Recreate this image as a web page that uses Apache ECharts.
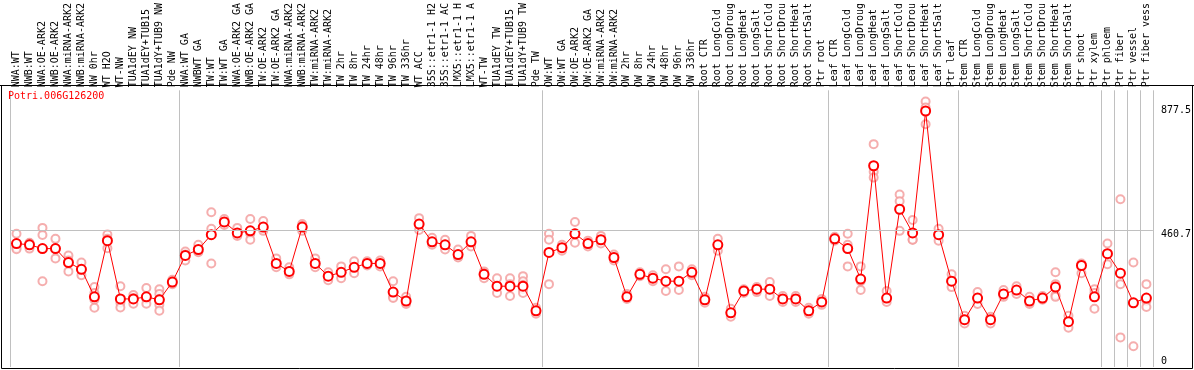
<!DOCTYPE html>
<html>
<head>
<meta charset="utf-8">
<script src="https://cdn.jsdelivr.net/npm/echarts@6/dist/echarts.min.js"></script>
<style>
html,body{margin:0;padding:0;background:#fff;}
#chart{width:1194px;height:370px;}
</style>
</head>
<body>
<div id="chart"></div>
<script>
// ---- data ----
const title = "Potri.006G126200";
const categories = [
 "NWA:WT","NWB:WT","NWA:OE-ARK2","NWB:OE-ARK2","NWA:miRNA-ARK2","NWB:miRNA-ARK2","NW 0hr","WT H2O","WT-NW","TUA1dEY NW","TUA1dEY+TUB15 NW","TUA1dY+TUB9 NW","Pde NW",
 "NWA:WT GA","NWBWT GA","TW:WT","TW:WT GA","NWA:OE-ARK2 GA","NWB:OE-ARK2 GA","TW:OE-ARK2","TW:OE-ARK2 GA","NWA:miRNA-ARK2 GA","NWB:miRNA-ARK2 GA","TW:miRNA-ARK2","TW:miRNA-ARK2 GA","TW 2hr","TW 8hr","TW 24hr","TW 48hr","TW 96hr","TW 336hr","WT ACC","35S::etr1-1 H2O","35S::etr1-1 ACC","LMX5::etr1-1 H2O","LMX5::etr1-1 ACC","WT-TW","TUA1dEY TW","TUA1dEY+TUB15 TW","TUA1dY+TUB9 TW","Pde TW",
 "OW:WT","OW:WT GA","OW:OE-ARK2","OW:OE-ARK2 GA","OW:miRNA-ARK2","OW:miRNA-ARK2 GA","OW 2hr","OW 8hr","OW 24hr","OW 48hr","OW 96hr","OW 336hr",
 "Root CTR","Root LongCold","Root LongDrought","Root LongHeat","Root LongSalt","Root ShortCold","Root ShortDrought","Root ShortHeat","Root ShortSalt","Ptr root",
 "Leaf CTR","Leaf LongCold","Leaf LongDrought","Leaf LongHeat","Leaf LongSalt","Leaf ShortCold","Leaf ShortDrought","Leaf ShortHeat","Leaf ShortSalt","Ptr leaf",
 "Stem CTR","Stem LongCold","Stem LongDrought","Stem LongHeat","Stem LongSalt","Stem ShortCold","Stem ShortDrought","Stem ShortHeat","Stem ShortSalt","Ptr shoot","Ptr xylem",
 "Ptr phloem","Ptr fiber","Ptr vessel","Ptr fiber vessel"
];
// indices of categories that start a new group (vertical separators)
const groupStarts = [0, 13, 41, 53, 63, 73, 84, 85, 86, 87];
const means = [
 417,413,400,400,353,330,237,427,230,230,237,227,287,
 377,397,447,490,453,460,473,350,323,473,350,307,320,337,350,350,253,223,483,423,413,380,423,313,273,273,273,190,
 387,403,450,417,430,370,237,313,300,290,290,320,
 227,413,183,257,263,263,230,230,190,220,
 433,400,297,680,233,533,453,865,447,290,
 160,233,160,247,260,223,233,270,153,343,237,
 383,317,217,233
];
const replicates = [
 [450,403,398],[420,418,400],[470,446,290],[433,400,367],[377,360,323],[353,327,310],[270,250,227,200],[448,433,401],[273,217,201],[243,233,214],[267,230,214],[263,247,230,210,190],[295,287,280],
 [390,380,360],[413,390,388],[523,467,350],[500,490,480],[470,447,443],[500,450,430],[493,467,460],[367,347,337],[337,320,313],[483,477,460],[367,347,337],[320,307,293],[340,320,300],[357,337,317],[357,350,343],[360,350,340],[290,237,233],[237,220,213],[503,483,463],[437,420,413],[430,413,397],[397,373,370],[443,420,407],[323,317,300],[300,270,250],[300,280,240],[307,290,277,263,250],[200,190,180],
 [450,430,280],[413,403,393],[490,450,420],[427,417,407],[443,430,417],[380,370,360],[247,237,230],[320,313,307],[310,300,290],[330,290,257],[340,290,260],[330,320,310],
 [237,227,217],[433,413,393],[197,183,170],[263,257,250],[270,263,253],[287,263,240],[240,230,220],[240,230,220],[200,190,180],[230,220,210],
 [440,433,427],[450,413,340],[340,290,260],[753,660,640],[257,233,220],[583,560,460],[497,430,430],[897,877,820],[467,447,427],[313,290,270],
 [173,160,147],[253,233,213],[170,160,147],[260,247,237],[273,260,247],[237,223,213],[240,233,227],[320,280,243,237],[173,153,133],[350,343,317],[263,250,197],
 [417,383,347],[567,280,100],[353,217,70],[280,223,203]
];
const yLabels = [0, 460.7, 877.5];
const refLine = 460.7;

// ---- chart ----
const repPoints = [];
replicates.forEach((arr, i) => arr.forEach(v => repPoints.push([i, v])));
const sepFn = (idx) => groupStarts.indexOf(idx) >= 0;
const mono = "DejaVu Sans Mono";

const chart = echarts.init(document.getElementById('chart'), null, {renderer: 'canvas'});
chart.setOption({
  animation: false,
  title: {
    text: title, left: 3, top: 86,
    textStyle: {color: '#ff0000', fontSize: 10, fontWeight: 'normal', fontFamily: mono}
  },
  grid: {left: 10, right: 39, top: 86, bottom: 3, containLabel: false},
  xAxis: {
    type: 'category', position: 'top', data: categories, boundaryGap: true,
    axisLine: {show: false},
    axisTick: {show: true, length: 86, interval: sepFn, lineStyle: {color: '#c0c0c0', width: 1}},
    splitLine: {show: true, interval: sepFn, lineStyle: {color: '#c0c0c0', width: 1}},
    axisLabel: {
      interval: 0, rotate: 90, margin: 3, color: '#000', fontSize: 10, fontFamily: mono,
      padding: [5, 0, 0, 0],
      formatter: (v) => v.length > 14 ? v.slice(0, 14) : v
    }
  },
  yAxis: {
    type: 'value', position: 'right', min: 0, max: 935,
    axisLine: {show: false}, axisTick: {show: false}, splitLine: {show: false},
    axisLabel: {
      customValues: yLabels, margin: 8, color: '#000', fontSize: 10, fontFamily: mono,
      verticalAlign: 'middle',
      formatter: (v) => v === 0 ? '{b|' + v + '}' : '{a|' + v + '}',
      rich: {
        a: {padding: [7, 0, 0, 0], fontSize: 10, fontFamily: mono, color: '#000'},
        b: {padding: [0, 0, 11, 0], fontSize: 10, fontFamily: mono, color: '#000'}
      }
    }
  },
  graphic: [
    {type: 'rect', shape: {x: 1.5, y: 85.5, width: 1191, height: 283}, style: {fill: 'none', stroke: '#000', lineWidth: 1}, silent: true, z: 100},
    {type: 'line', shape: {x1: 0, y1: 85.5, x2: 1194, y2: 85.5}, style: {stroke: '#000', lineWidth: 1}, silent: true, z: 100}
  ],
  series: [
    {
      type: 'scatter', name: 'replicates', data: repPoints,
      symbol: 'emptyCircle', symbolSize: 8,
      itemStyle: {color: '#f29a9a', borderColor: '#f29a9a', borderWidth: 1.3},
      z: 2,
      markLine: {
        silent: true, symbol: 'none', label: {show: false},
        lineStyle: {color: '#c0c0c0', type: 'solid', width: 1},
        data: [{yAxis: refLine}]
      }
    },
    {
      type: 'line', name: 'mean', data: means,
      symbol: 'emptyCircle', symbolSize: 9,
      lineStyle: {color: '#ff0000', width: 1},
      itemStyle: {color: '#ff0000', borderColor: '#ff0000', borderWidth: 1.8},
      z: 3
    }
  ]
});
</script>
</body>
</html>
